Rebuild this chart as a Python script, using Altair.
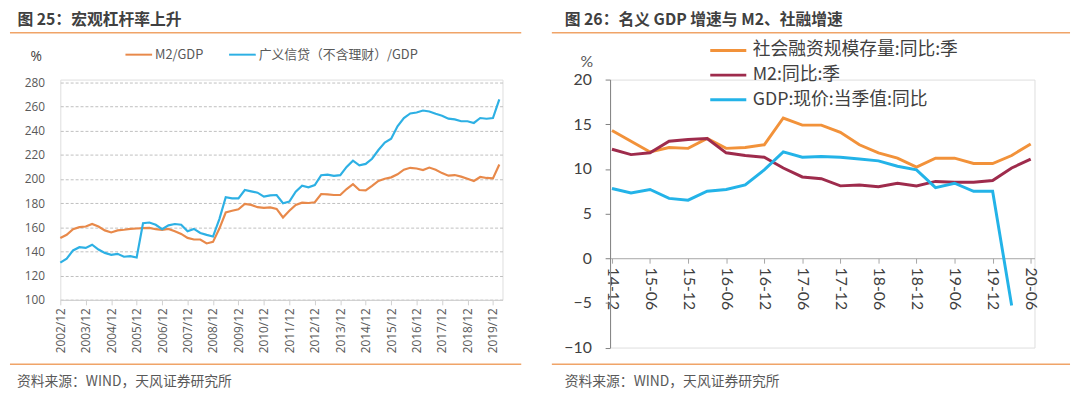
import json
import altair as alt
import pandas as pd

# ---------------- data: left panel (quarterly, 2002/12 .. 2020/03) ----------------
left_ticks = [f"{y}/12" for y in range(2002, 2020)]
left_series = ["M2/GDP", "广义信贷（不含理财）/GDP"]
m2_gdp = [151.2, 153.9, 158.5, 160.2, 160.7, 162.9, 160.7, 157.5, 155.8, 157.5,
          158.0, 158.8, 159.1, 159.4, 159.6, 158.5, 158.0, 158.7, 156.8, 154.6,
          151.3, 150.0, 150.0, 146.7, 148.0, 159.0, 172.3, 173.7, 175.0, 179.4,
          178.6, 176.7, 176.1, 176.5, 175.3, 168.2, 173.7, 178.6, 180.5, 180.2,
          180.8, 187.6, 187.3, 186.8, 186.8, 191.7, 195.8, 190.9, 190.6, 194.4,
          198.5, 200.3, 201.4, 203.9, 207.7, 209.3, 208.7, 207.4, 209.5, 207.7,
          204.9, 202.8, 203.3, 202.0, 200.3, 198.4, 201.7, 200.9, 200.5, 212.0]
credit_gdp = [130.8, 134.1, 140.9, 143.6, 143.0, 145.7, 141.7, 138.9, 137.3, 138.1,
              135.7, 136.2, 135.1, 163.4, 164.0, 162.1, 158.5, 161.7, 162.8, 162.2,
              156.8, 158.7, 155.4, 153.8, 152.4, 166.9, 184.9, 184.0, 184.0, 190.9,
              189.8, 188.7, 185.4, 186.5, 186.8, 180.0, 181.3, 189.5, 194.4, 193.1,
              195.0, 203.2, 203.7, 202.6, 203.2, 210.0, 215.2, 211.4, 212.5, 216.8,
              224.0, 230.2, 233.4, 243.7, 250.5, 254.3, 255.1, 256.7, 255.9, 254.0,
              252.4, 250.0, 249.4, 247.8, 247.8, 246.4, 250.5, 249.9, 250.5, 266.0]

# ---------------- data: right panel (quarterly, 14-12 .. 20-06) ----------------
right_ticks = ["14-12", "15-06", "15-12", "16-06", "16-12", "17-06",
               "17-12", "18-06", "18-12", "19-06", "19-12", "20-06"]
right_series = ["社会融资规模存量:同比:季", "M2:同比:季", "GDP:现价:当季值:同比"]
tsf_yoy = [14.3, 13.1, 11.9, 12.4, 12.3, 13.4, 12.3, 12.4, 12.7, 15.7, 14.9, 14.9,
           14.1, 12.7, 11.8, 11.2, 10.2, 11.2, 11.2, 10.6, 10.6, 11.5, 12.8]
m2_yoy = [12.2, 11.6, 11.8, 13.1, 13.3, 13.4, 11.8, 11.5, 11.3, 10.1, 9.1, 8.9,
          8.1, 8.2, 8.0, 8.4, 8.1, 8.6, 8.5, 8.5, 8.7, 10.1, 11.1]
gdp_yoy = [7.8, 7.3, 7.7, 6.7, 6.5, 7.5, 7.7, 8.2, 9.9, 11.9, 11.3, 11.4,
           11.3, 11.1, 10.9, 10.3, 9.9, 7.9, 8.4, 7.5, 7.5, -5.3]

left_colors = ["#E8894A", "#2DB0E4"]
right_colors = ["#F2923A", "#9E2B4C", "#23B3E8"]

CJK = "Noto Sans CJK SC"
SEP = "#F0A468"

left_df = pd.DataFrame({
    "idx": list(range(len(m2_gdp))) + list(range(len(credit_gdp))),
    "value": m2_gdp + credit_gdp,
    "series": [left_series[0]] * len(m2_gdp) + [left_series[1]] * len(credit_gdp),
})
rows = []
for name, vals in zip(right_series, [tsf_yoy, m2_yoy, gdp_yoy]):
    for i, v in enumerate(vals):
        rows.append({"idx": i, "value": v, "series": name})
right_df = pd.DataFrame(rows)
right_legend_df = pd.DataFrame({"series": right_series,
                                "row": list(range(len(right_series)))})

one = alt.Data(values=[{"a": 1}])


def hrule(x1, x2, y, color=SEP, width=1.5):
    return alt.Chart(one).mark_rule(color=color, strokeWidth=width).encode(
        x=alt.value(x1), x2=alt.value(x2), y=alt.value(y))


def label(text, x, y, size, color, weight="normal"):
    return alt.Chart(one).mark_text(
        text=text, align="left", baseline="middle", fontSize=size, color=color,
        font=CJK, fontWeight=weight).encode(x=alt.value(x), y=alt.value(y))


# ---------------- left panel ----------------
LW, LH = 448, 223.2
left_lines = alt.Chart(left_df).mark_line(strokeWidth=2.2).encode(
    x=alt.X("idx:Q", scale=alt.Scale(domain=[0, 69.5], nice=False, zero=False),
            axis=alt.Axis(values=list(range(0, 69, 4)),
                          labelExpr=json.dumps(left_ticks) + "[round(datum.value / 4)]",
                          labelAngle=-90, grid=False, domainColor="#D0D0D0",
                          tickColor="#D0D0D0", tickSize=5, labelFontSize=12,
                          labelFont="Open Sans", labelColor="#595959",
                          labelPadding=3, title=None)),
    y=alt.Y("value:Q", scale=alt.Scale(domain=[100, 282.3], nice=False, zero=False),
            axis=alt.Axis(values=list(range(100, 281, 20)), grid=True,
                          gridColor="#BFBFBF", gridDash=[3, 2], domain=False,
                          ticks=False, labelPadding=16, labelFontSize=12,
                          labelFont="Open Sans", labelColor="#595959",
                          title="%", titleAngle=0, titleX=-25, titleY=-23.5,
                          titleFontSize=14, titleFontWeight="normal",
                          titleColor="#404040", titleAlign="center",
                          titleBaseline="middle", titleFont="Open Sans")),
    color=alt.Color("series:N",
                    scale=alt.Scale(domain=left_series, range=left_colors),
                    legend=alt.Legend(orient="none", legendX=65, legendY=-40,
                                      direction="horizontal", title=None,
                                      symbolType="stroke", symbolSize=729,
                                      symbolStrokeWidth=2, labelFontSize=13,
                                      labelFont=CJK, labelColor="#595959",
                                      labelLimit=500,
                                      columnPadding=22, labelOffset=2)),
)

left = alt.layer(
    left_lines,
    hrule(-51, 467, -47.5),
    hrule(-51, 467, 288.5),
    label("图 25：宏观杠杆率上升", -43.5, -59.8, 16, "#404040", "bold"),
    label("资料来源：WIND，天风证券研究所", -44, 306, 14, "#595959"),
).properties(width=LW, height=LH)

# ---------------- right panel ----------------
RW, RH = 430, 271.5
right_color = alt.Color("series:N",
                        scale=alt.Scale(domain=right_series, range=right_colors),
                        legend=None)
right_lines = alt.Chart(right_df).mark_line(strokeWidth=3).encode(
    x=alt.X("idx:Q", scale=alt.Scale(domain=[-0.1, 22.2], nice=False, zero=False),
            axis=alt.Axis(values=list(range(0, 23, 2)),
                          labelExpr=json.dumps(right_ticks) + "[round(datum.value / 2)]",
                          labelAngle=90, offset=-90.5, grid=False,
                          domainColor="#A6A6A6", tickColor="#A6A6A6", tickSize=5,
                          labelFontSize=16, labelFont="Lato", labelColor="#404040",
                          labelPadding=4, title=None)),
    y=alt.Y("value:Q", scale=alt.Scale(domain=[-10, 20], nice=False, zero=False),
            axis=alt.Axis(values=list(range(-10, 21, 5)), grid=False,
                          domainColor="#7F7F7F", tickColor="#7F7F7F", tickSize=5,
                          labelPadding=14, labelFontSize=16, labelFont="Lato",
                          labelColor="#404040", title="%", titleAngle=0,
                          titleX=-24, titleY=-18.5, titleFontSize=16,
                          titleFontWeight="normal", titleColor="#595959",
                          titleAlign="center", titleBaseline="middle",
                          titleFont="Lato")),
    color=right_color,
)

# legend for the right panel (one row per series)
legend_y = alt.Y("row:Q", scale=alt.Scale(domain=[0, 2], range=[-29.5, 20.5]),
                 axis=None)
right_legend_sym = alt.Chart(right_legend_df).mark_rule(strokeWidth=3).encode(
    x=alt.value(101.5), x2=alt.value(138), y=legend_y, color=right_color)
right_legend_txt = alt.Chart(right_legend_df).mark_text(
    align="left", baseline="middle", fontSize=18, font=CJK, color="#404040").encode(
    x=alt.value(144.5), y=legend_y, text="series:N")

right = alt.layer(
    right_lines,
    right_legend_sym,
    right_legend_txt,
    hrule(-59, 466, -47.5),
    hrule(-59, 466, 288.5),
    label("图 26：名义 GDP 增速与 M2、社融增速", -46, -59.8, 16, "#404040", "bold"),
    label("资料来源：WIND，天风证券研究所", -46, 306, 14, "#595959"),
).resolve_scale(y="independent").properties(width=RW, height=RH)

chart = alt.hconcat(left, right, spacing=27).resolve_scale(
    color="independent").properties(
    padding={"top": 1, "left": 0, "right": 0, "bottom": 0}).configure_view(
    stroke="transparent").configure(font=CJK)

chart.save("out.html", embed_options={"renderer": "svg", "actions": False})
